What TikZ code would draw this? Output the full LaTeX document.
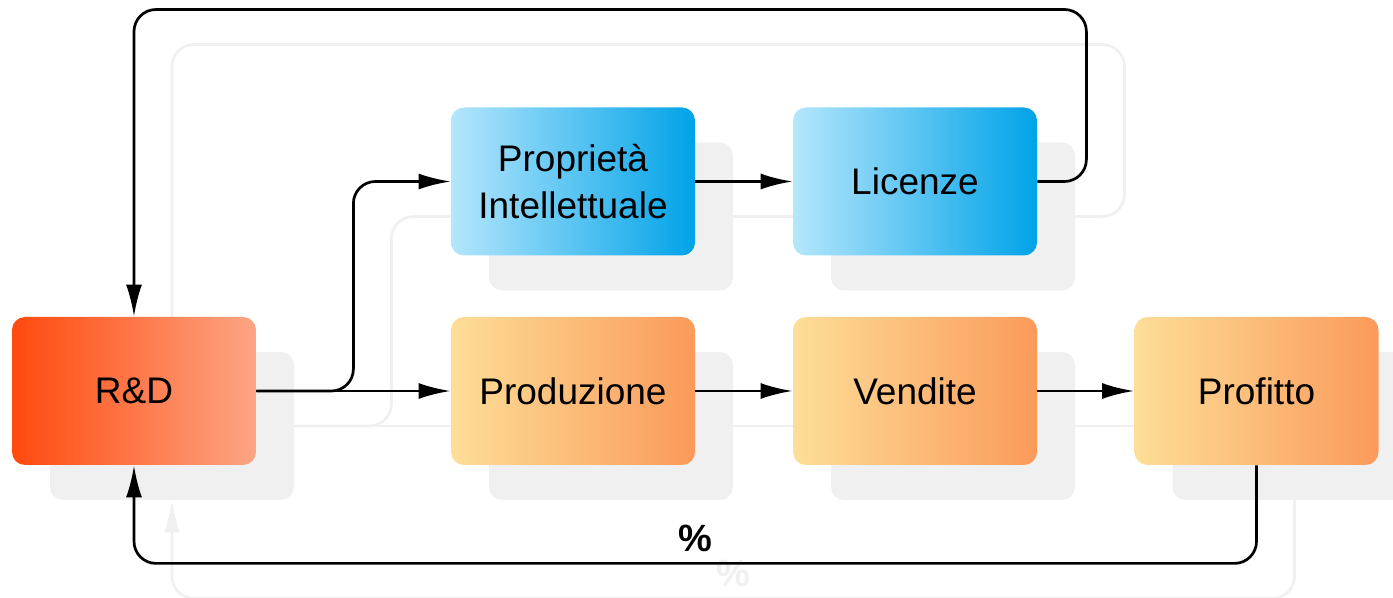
\documentclass[tikz,border=0pt]{standalone}
\usepackage{fontspec}
\setmainfont{Liberation Sans}
\usetikzlibrary{calc}
\usetikzlibrary{arrows.meta}
\usetikzlibrary{positioning}
\definecolor{rdleft}{HTML}{FF4A0E}
\definecolor{rdright}{HTML}{FDA585}
\definecolor{ipleft}{HTML}{B5E6FC}
\definecolor{ipright}{HTML}{00A3E8}
\definecolor{opleft}{HTML}{FDDE98}
\definecolor{opright}{HTML}{FB9A5A}
\definecolor{ghost}{HTML}{F0F0F0}
\tikzset{>={Latex[length=16pt, width=8pt]}}
\tikzset{stage/.style = {rectangle, rounded corners=6.5pt, minimum width=122pt, minimum height=74pt, inner sep=0pt, align=center, font=\fontsize{18.5}{23.5}\selectfont}}
\tikzset{rdfill/.style = {left color=rdleft, right color=rdright}}
\tikzset{ipfill/.style = {left color=ipleft, right color=ipright}}
\tikzset{opfill/.style = {left color=opleft, right color=opright}}
\tikzset{flow/.style = {line width=1.35pt, rounded corners=11pt}}
\newcommand{\stagename}[1]{#1}

% one copy of the chart, #1 is added to the node names
\newcommand{\valuechain}[1]{%
\node [stage, rdfill] (rd#1) at (134, 391) {\stagename{R\&D}};
\node [stage, ipfill] (ip#1) at (573, 181.5) {\stagename{Proprietà\\Intellettuale}};
\node [stage, ipfill] (lic#1) at (915, 181.5) {\stagename{Licenze}};
\node [stage, opfill] (prod#1) at (573, 391) {\stagename{Produzione}};
\node [stage, opfill] (sales#1) at (915, 391) {\stagename{Vendite}};
\node [stage, opfill] (profit#1) at (1256.5, 391) {\stagename{Profitto}};
\draw [flow, ->] (rd#1.east) -- (prod#1.west);
\draw [flow, ->] (rd#1.east) -- ++(97, 0) |- (ip#1.west);
\draw [flow, ->] (ip#1.east) -- (lic#1.west);
\draw [flow, ->] (lic#1.east) -- ++(49, 0) -- ++(0, -172) -| (rd#1.north);
\draw [flow, ->] (prod#1.east) -- (sales#1.west);
\draw [flow, ->] (sales#1.east) -- (profit#1.west);
\draw [flow, ->] (profit#1.south) -- ++(0, 98) -| node[pos=0.25, above=5pt, inner sep=0pt, font=\fontsize{19}{22}\selectfont\bfseries] {\%} (rd#1.south);
}

\begin{document}
\begin{tikzpicture}[x=0.5pt, y=-0.5pt]
\useasboundingbox (0, 0) rectangle (1393, 598);
% shadow copy
\begin{scope}[shift={(38, 35)}, rdfill/.style={fill=ghost}, ipfill/.style={fill=ghost}, opfill/.style={fill=ghost}, flow/.append style={draw=ghost}, every node/.append style={text=ghost}]
\renewcommand{\stagename}[1]{}
\valuechain{s}
\end{scope}
\valuechain{}
\end{tikzpicture}
\end{document}
